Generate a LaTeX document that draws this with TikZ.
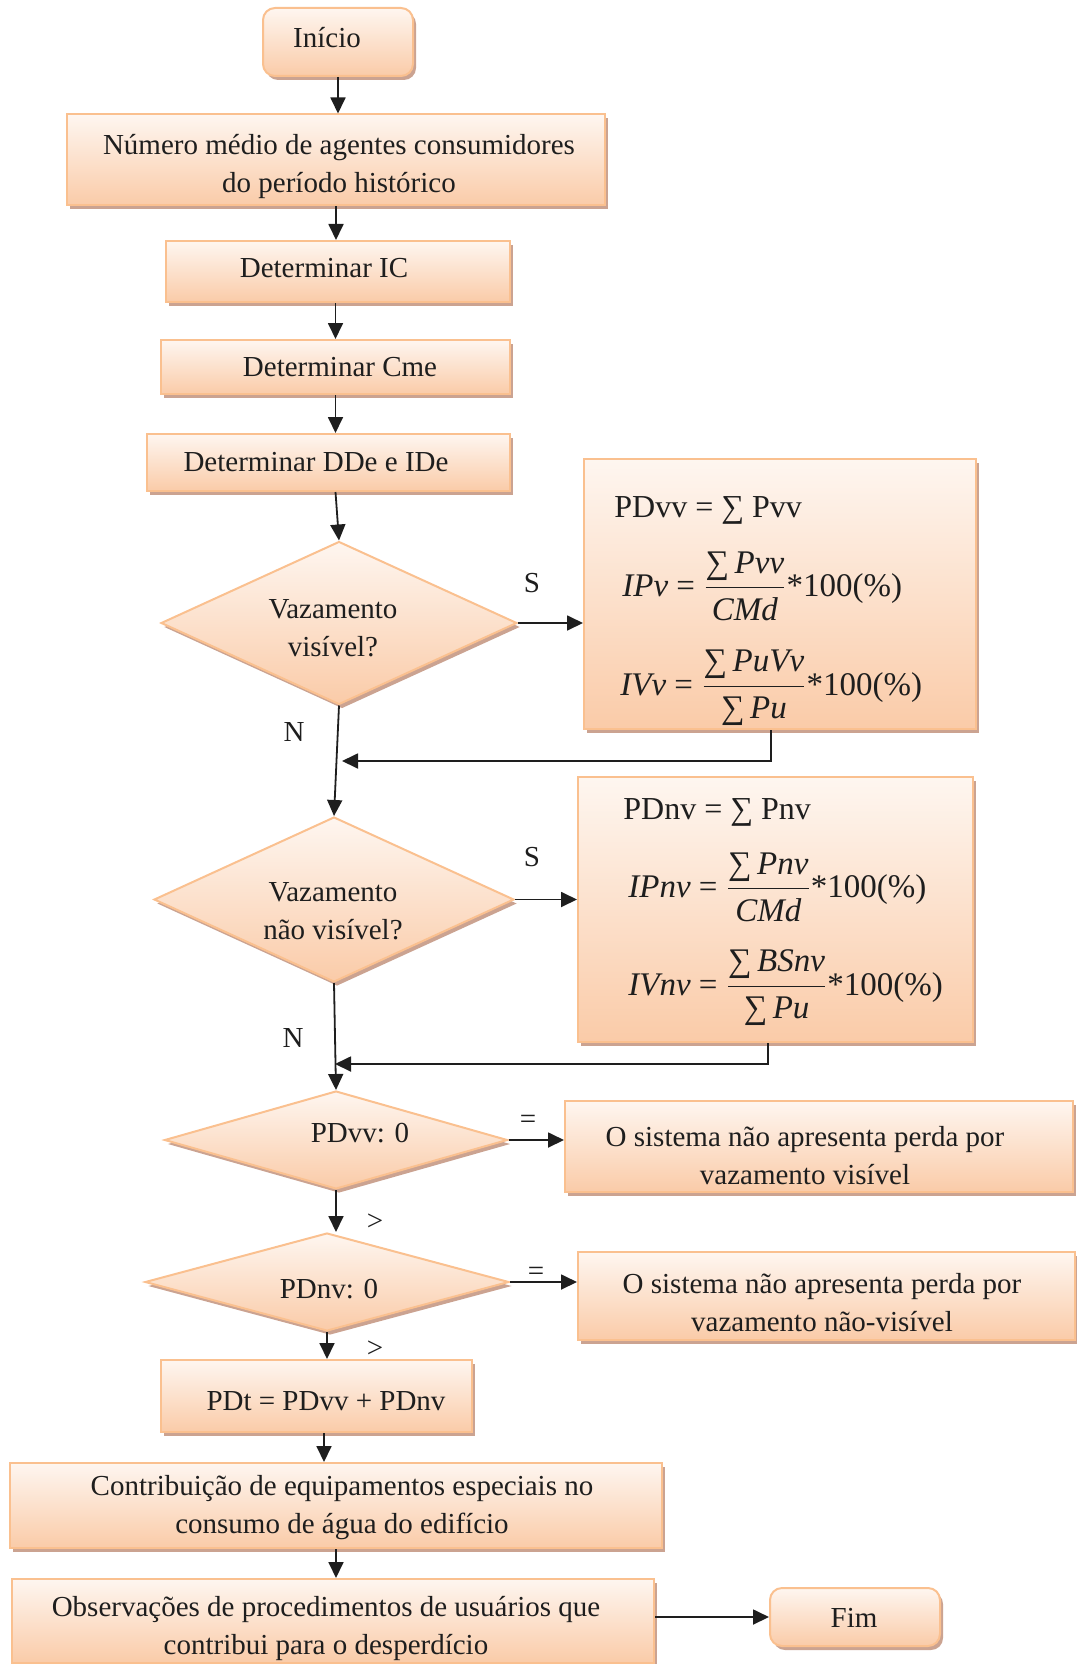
\documentclass[tikz,border=0pt]{standalone}
\usepackage{fontspec}
\setmainfont{Liberation Serif}
\usetikzlibrary{shapes.geometric,arrows.meta,shadows}

\definecolor{ink}{RGB}{30,30,30}
\definecolor{edgeor}{RGB}{250,192,143}
\definecolor{filltop}{RGB}{254,246,240}
\definecolor{fillbot}{RGB}{250,203,168}
\definecolor{shadowbr}{RGB}{190,140,118}

\begin{document}
\begin{tikzpicture}[x=0.5pt,y=-0.5pt,
  font=\fontsize{14.5}{19}\selectfont,
  every node/.style={text=ink},
  shadebase/.style={draw=edgeor, line width=1pt, top color=filltop, bottom color=fillbot,
    drop shadow={shadow xshift=1.5pt, shadow yshift=-2pt, fill=shadowbr, opacity=0.8}},
  procbox/.style={shadebase, rectangle, inner sep=0pt},
  termbox/.style={procbox, rounded corners=6pt},
  decision/.style={shadebase, diamond, inner sep=0pt},
  arr/.style={-{Triangle[length=8pt,width=7.5pt]}, line width=0.9pt, draw=ink},
  tag/.style={inner sep=0pt},
  lbl/.style={inner sep=0pt, align=center},
  eqline/.style={anchor=west, inner sep=0pt, font=\fontsize{16.5}{20}\selectfont},
  eqhead/.style={anchor=west, inner sep=0pt, font=\fontsize{16}{20}\selectfont}
]
\useasboundingbox (0,0) rectangle (1076,1664);

% ---- shapes of the main column
\node[termbox, minimum width=75pt, minimum height=34pt] (start) at (338,42) {};
\node[procbox, minimum width=269pt, minimum height=45.5pt] (avg) at (336,160) {};
\node[procbox, minimum width=172pt, minimum height=30.5pt] (ic) at (338,271.5) {};
\node[procbox, minimum width=174.5pt, minimum height=27pt] (cme) at (335.5,367) {};
\node[procbox, minimum width=181.5pt, minimum height=28.5pt] (dde) at (328.5,462.5) {};
\node[decision, aspect=2.18, minimum width=178pt, minimum height=81.5pt] (vis) at (339,623) {};
\node[decision, aspect=2.18, minimum width=180pt, minimum height=82.5pt] (nvis) at (334,899.5) {};
\node[decision, aspect=3.5, minimum width=171.5pt, minimum height=49pt] (pdvvz) at (336,1140) {};
\node[decision, aspect=3.7, minimum width=182pt, minimum height=49pt] (pdnvz) at (327,1282) {};
\node[procbox, minimum width=155.5pt, minimum height=36pt] (pdt) at (316.5,1396) {};
\node[procbox, minimum width=326pt, minimum height=42.5pt] (contr) at (336,1505.5) {};
\node[procbox, minimum width=321pt, minimum height=42pt] (obs) at (333,1621) {};
\node[termbox, minimum width=85pt, minimum height=29pt] (fim) at (855,1617) {};

% ---- shapes of the side column
\node[procbox, minimum width=196pt, minimum height=135pt] (fvis) at (780,594) {};
\node[procbox, minimum width=197.5pt, minimum height=132.5pt] (fnvis) at (775.5,909.5) {};
\node[procbox, minimum width=254pt, minimum height=45.5pt] (novis) at (819,1146.5) {};
\node[procbox, minimum width=248.5pt, minimum height=44pt] (nonvis) at (826.5,1296) {};

% ---- texts
\node[lbl] (startT) at (327,38) {Início};
\node[lbl] (avgT) at (339,167) {Número médio de agentes consumidores\\do período histórico};
\node[lbl] (icT) at (324,268) {Determinar IC};
\node[lbl] (cmeT) at (340,367) {Determinar Cme};
\node[lbl] (ddeT) at (316,462) {Determinar DDe e IDe};
\node[lbl] (visT) at (333,628) {Vazamento\\visível?};
\node[lbl] (nvisT) at (333,911) {Vazamento\\não visível?};
\node[lbl] (pdvvzT) at (360,1133) {PDvv: 0};
\node[lbl] (pdnvzT) at (329,1289) {PDnv: 0};
\node[lbl] (pdtT) at (326,1401) {PDt = PDvv + PDnv};
\node[lbl] (contrT) at (342,1508) {Contribuição de equipamentos especiais no\\consumo de água do edifício};
\node[lbl] (obsT) at (326,1628) {Observações de procedimentos de usuários que\\contribui para o desperdício};
\node[lbl] (fimT) at (854,1618) {Fim};
\node[lbl] (novisT) at (805,1156) {O sistema não apresenta perda por\\vazamento visível};
\node[lbl] (nonvisT) at (822,1303) {O sistema não apresenta perda por\\vazamento não-visível};

% ---- formulas
\node[eqhead] (pdvv) at (614,510) {PDvv = ∑ Pvv};
\node[eqline] (ipv) at (622,586)
  {\textit{IPv} = $\displaystyle\frac{\mbox{∑\,\textit{Pvv}}}{\mbox{\textit{CMd}}}$*100(\%)};
\node[eqline] (ivv) at (620,688)
  {\textit{IVv} = $\displaystyle\frac{\mbox{∑\,\textit{PuVv}}}{\mbox{∑\,\textit{Pu}}}$*100(\%)};
\node[eqhead] (pdnv) at (623,812) {PDnv = ∑ Pnv};
\node[eqline] (ipnv) at (628,887)
  {\textit{IPnv} = $\displaystyle\frac{\mbox{∑\,\textit{Pnv}}}{\mbox{\textit{CMd}}}$*100(\%)};
\node[eqline] (ivnv) at (628,988)
  {\textit{IVnv} = $\displaystyle\frac{\mbox{∑\,\textit{BSnv}}}{\mbox{∑\,\textit{Pu}}}$*100(\%)};

% ---- branch labels
\node[tag] (s1) at (532,583) {S};
\node[tag] (n1) at (294,732) {N};
\node[tag] (s2) at (532,857) {S};
\node[tag] (n2) at (293,1038) {N};
\node[tag] (eq1) at (528,1122) {=};
\node[tag] (gt1) at (375,1222) {>};
\node[tag] (eq2) at (536,1274) {=};
\node[tag] (gt2) at (375,1349) {>};

% ---- junction points
\coordinate (m1) at (342,761);
\coordinate (m2) at (335,1064);
\coordinate (p1) at ([xshift=3.75pt]pdt.south);

% ---- connectors
\draw[arr] (start.south) -- (start.south |- avg.north);
\draw[arr] (avg.south) -- (avg.south |- ic.north);
\draw[arr] (cme.north |- ic.south) -- (cme.north);
\draw[arr] (cme.south) -- (cme.south |- dde.north);
\draw[arr] (dde.south -| cme.south) -- (vis.north);
\draw[arr] (vis.east) -- (vis.east -| fvis.west);
\draw[arr] (vis.south) -- (nvis.north);
\draw[arr] ([xshift=-4.5pt]fvis.south) |- (m1);
\draw[arr] (nvis.east) -- (nvis.east -| fnvis.west);
\draw[arr] (nvis.south) -- (pdvvz.north);
\draw[arr] ([xshift=-3.75pt]fnvis.south) |- (m2);
\draw[arr] (pdvvz.east) -- (pdvvz.east -| novis.west);
\draw[arr] (pdvvz.south) -- (pdvvz.south |- pdnvz.north);
\draw[arr] (pdnvz.east) -- (pdnvz.east -| nonvis.west);
\draw[arr] (pdnvz.south) -- (pdnvz.south |- pdt.north);
\draw[arr] (p1) -- (p1 |- contr.north);
\draw[arr] (contr.south) -- (contr.south |- obs.north);
\draw[arr] (obs.east |- fim.west) -- (fim.west);
\end{tikzpicture}
\end{document}
